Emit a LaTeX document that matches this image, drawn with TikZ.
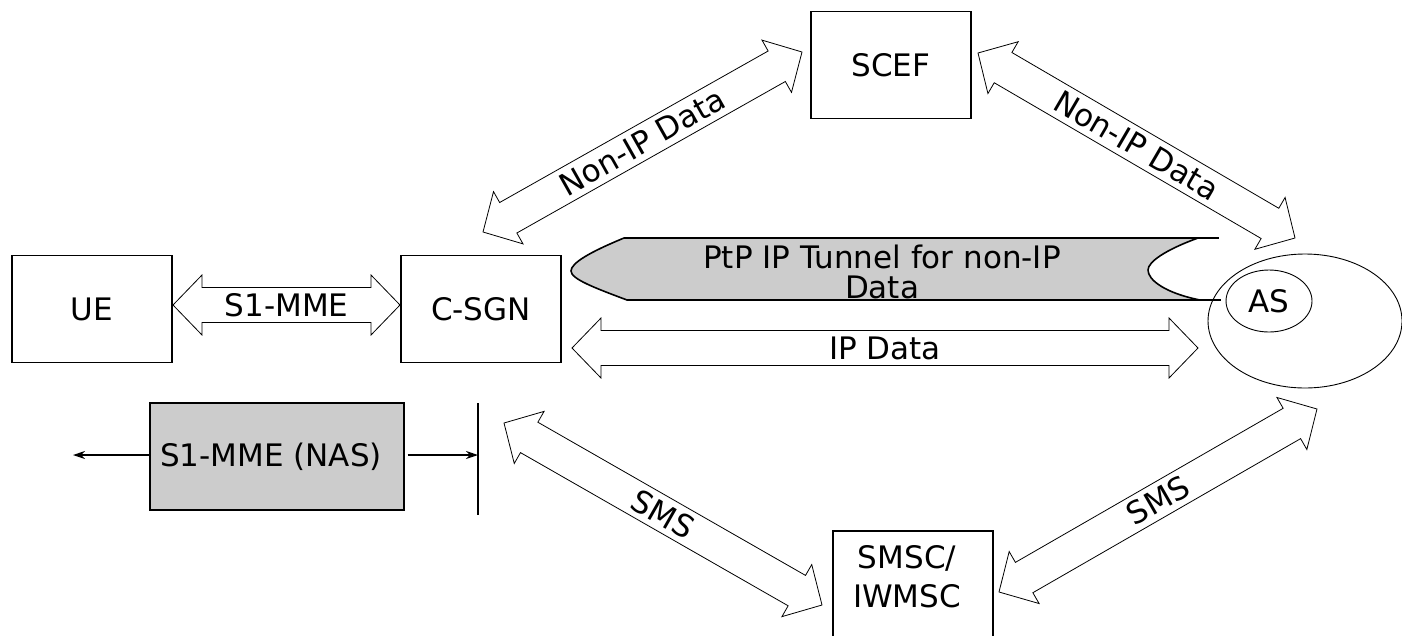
\documentclass[tikz,border=0pt]{standalone}
\usepackage{fontspec}
\setmainfont{DejaVu Sans}
\usetikzlibrary{calc,shapes.geometric,arrows.meta}
\newcommand\fsz{\fontsize{31}{36}\selectfont}
\newcommand\fhl{29pt}
\newcommand\fhw{30pt}
\newcommand\fsw{17.5pt}
\tikzset{
  box/.style={draw, line width=1.2pt, minimum width=160pt, minimum height=107pt, inner sep=0pt, font=\fsz},
  fat/.style={draw, fill=white, line width=0.8pt, line join=miter},
  lbl/.style={font=\fsz, inner sep=0pt},
  thinarrow/.style={line width=1.2pt, -{Stealth[length=12pt,width=8pt]}},
  tunnel/.style={fill=gray!40, draw, line width=1.6pt, line join=round},
  plainline/.style={line width=1.2pt},
}
\newcommand\fatarrow[3]{%
  \path ($(#1)!\fhl!(#2)$) coordinate (#1-p) ($(#2)!\fhl!(#1)$) coordinate (#1-q);
  \draw[fat] (#1)
    -- ($(#1-p)!\fhw!90:(#2)$)
    -- ($(#1-p)!\fsw!90:(#2)$)
    -- ($(#1-q)!\fsw!90:(#2)$)
    -- ($(#1-q)!\fhw!90:(#2)$)
    -- (#2)
    -- ($(#1-q)!\fhw!-90:(#2)$)
    -- ($(#1-q)!\fsw!-90:(#2)$)
    -- ($(#1-p)!\fsw!-90:(#2)$)
    -- ($(#1-p)!\fhw!-90:(#2)$)
    -- cycle;
  \path (#1) -- (#2) node[midway, sloped, lbl] {#3};
}
\begin{document}
\begin{tikzpicture}[x=1pt,y=-1pt]
\useasboundingbox (0,0) rectangle (1402,635);

% boxes
\node[box] (ue) at (92,309) {UE};
\node[box] (csgn) at (481,309) {C-SGN};
\node[box] (scef) at (891,65) {SCEF};
\node[box] (smsc) at (913,584.5) {};
\node[font=\fontsize{31}{39}\selectfont, align=center, inner sep=0pt] (smsct) at (907,577) {SMSC/\\IWMSC};
\node[box, fill=gray!40, minimum width=254pt] (nas) at (277,456.5) {\hspace*{-12pt}S1-MME (NAS)};

% AS
\node[draw, ellipse, line width=0.9pt, minimum width=194pt, minimum height=134pt, inner sep=0pt] (asdom) at (1305,321) {};
\node[draw, ellipse, line width=0.9pt, minimum width=86pt, minimum height=62pt, inner sep=0pt, font=\fsz] (as) at (1269,301) {AS};

% fat arrow end points
\coordinate (s1a) at (173,305);  \coordinate (s1b) at (400,305);
\coordinate (ipa) at (572,348);  \coordinate (ipb) at (1198,348);
\coordinate (nla) at (483,232);  \coordinate (nlb) at (802,52);
\coordinate (nra) at (978,53);   \coordinate (nrb) at (1295,238);
\coordinate (sla) at (504,423);  \coordinate (slb) at (822,605);
\coordinate (sra) at (999,592);  \coordinate (srb) at (1317,409);

\fatarrow{s1a}{s1b}{S1-MME}
\fatarrow{ipa}{ipb}{IP Data}
\fatarrow{nla}{nlb}{Non-IP Data}
\fatarrow{nra}{nrb}{Non-IP Data}
\fatarrow{sla}{slb}{SMS}
\fatarrow{sra}{srb}{SMS}

% tunnel
\draw[tunnel] (624,238) -- (1198,238)
  .. controls (1165,250) and (1148,262) .. (1148,270)
  .. controls (1148,280) and (1165,293) .. (1200,300)
  -- (627,300)
  .. controls (595,288) and (571,279) .. (571,271)
  .. controls (571,263) and (590,252) .. (624,238) -- cycle;
\coordinate (tt) at (1219,238);
\coordinate (tb) at (1221,300);
\draw[plainline] (1198,238) -- (tt);
\draw[plainline] (1200,300) -- (tb);
\node[font=\fontsize{31}{30}\selectfont, align=center, inner sep=0pt] (tunneltext) at (882,272) {PtP IP Tunnel for non-IP\\Data};

% NAS arrows and bar
\coordinate (nasL) at (73,455);
\coordinate (barT) at (478,403);
\coordinate (barB) at (478,515);
\coordinate (barM) at (478,455);
\draw[plainline] (barT) -- (barB);
\draw[thinarrow] (nas.west |- nasL) -- (nasL);
\draw[thinarrow] ([xshift=3pt]nas.east |- barM) -- (barM);
\end{tikzpicture}
\end{document}
